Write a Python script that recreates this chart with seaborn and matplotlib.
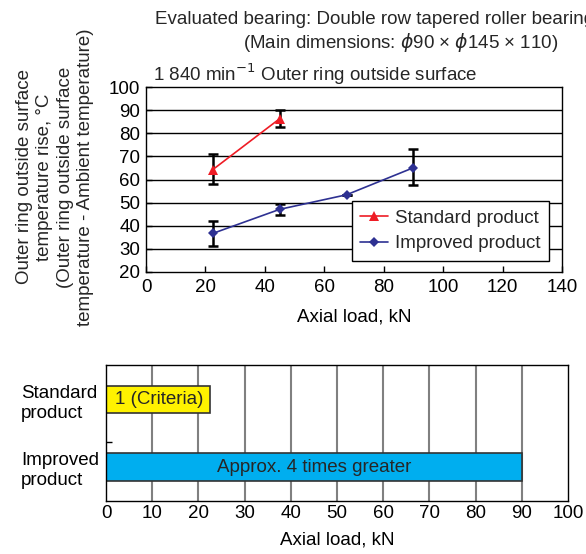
import matplotlib
matplotlib.use("Agg")
import matplotlib.pyplot as plt
import seaborn as sns
import pandas as pd
import numpy as np

# ---- data ----
std_load = [22.5, 45]
std_temp = [64.3, 86.3]
std_err_low = [58.0, 82.5]
std_err_high = [70.9, 90.2]

imp_load = [22.5, 45, 67.5, 90]
imp_temp = [36.7, 47.1, 53.4, 65.1]
imp_err_low = [31.2, 44.6, 53.4, 57.6]
imp_err_high = [41.9, 49.5, 53.4, 73.0]

series_names = ["Standard product", "Improved product"]

bar_categories = ["Standard\nproduct", "Improved\nproduct"]
bar_values = [22.5, 90]
bar_texts = ["1 (Criteria)", "Approx. 4 times greater"]

# ---- style ----
sns.set_theme(style="white")
plt.rcParams['font.family'] = ['Liberation Sans', 'DejaVu Sans']
FS = 13.5

W, H = 586, 554
fig = plt.figure(figsize=(W / 100, H / 100), dpi=100)

def rect(l, t, r, b):
    return [l / W, 1 - b / H, (r - l) / W, (b - t) / H]

# ---- top chart ----
ax1 = fig.add_axes(rect(146, 87, 562, 272))
df = pd.concat([
    pd.DataFrame({"load": std_load, "temp": std_temp, "series": series_names[0]}),
    pd.DataFrame({"load": imp_load, "temp": imp_temp, "series": series_names[1]}),
])
colors = {series_names[0]: "#ee1c25", series_names[1]: "#2e3192"}
for y in range(30, 100, 10):
    ax1.axhline(y, color="black", lw=1.0, zorder=0)
sns.lineplot(data=df, x="load", y="temp", hue="series", style="series",
             markers={series_names[0]: "^", series_names[1]: "D"},
             dashes=False, palette=colors, ax=ax1, lw=1.2,
             markersize=7.5, markeredgewidth=0, zorder=3)
for ln in ax1.get_lines():
    if ln.get_marker() == "D":
        ln.set_markersize(5.5)
ax1.errorbar(std_load, std_temp,
             yerr=[np.array(std_temp) - np.array(std_err_low), np.array(std_err_high) - np.array(std_temp)],
             fmt="none", ecolor="black", elinewidth=1.8, capsize=3.5, capthick=1.8, zorder=2)
ax1.errorbar(imp_load, imp_temp,
             yerr=[np.array(imp_temp) - np.array(imp_err_low), np.array(imp_err_high) - np.array(imp_temp)],
             fmt="none", ecolor="black", elinewidth=1.8, capsize=3.5, capthick=1.8, zorder=2)
ax1.set_xlim(0, 140)
ax1.set_ylim(20, 100)
ax1.set_xticks(range(0, 141, 20))
ax1.set_yticks(range(20, 101, 10))
ax1.tick_params(axis="both", labelsize=FS, colors="black", direction="in", length=4, width=1,
                bottom=True, left=True)
ax1.tick_params(axis="y", pad=4)
ax1.tick_params(axis="x", pad=5)
for s in ax1.spines.values():
    s.set_color("black")
    s.set_linewidth(1.0)
ax1.set_xlabel("Axial load, kN", fontsize=FS, color="black", labelpad=9)
ax1.set_ylabel("")
leg = ax1.legend(title=None, loc="upper left", bbox_to_anchor=(0.495, 0.384),
                 borderaxespad=0, fontsize=FS, frameon=True, fancybox=False,
                 edgecolor="black", framealpha=1, borderpad=0.45, labelspacing=0.45,
                 handlelength=1.45, handletextpad=0.4, markerscale=1.0)
leg.get_frame().set_linewidth(1.0)

fig.text(55 / W, 1 - 177 / H,
         "Outer ring outside surface\ntemperature rise, °C\n(Outer ring outside surface\ntemperature - Ambient temperature)",
         rotation=90, ha="center", va="center", fontsize=FS, ma="center", linespacing=1.25,
         transform=fig.transFigure)

fig.text(155 / W, 1 - 20 / H, "Evaluated bearing: Double row tapered roller bearing",
         ha="left", va="center", fontsize=FS)
fig.text(243 / W, 1 - 42 / H, "(Main dimensions: $\\phi$90 × $\\phi$145 × 110)",
         ha="left", va="center", fontsize=FS)
fig.text(153 / W, 1 - 74 / H, "1 840 min$^{-1}$ Outer ring outside surface",
         ha="left", va="center", fontsize=FS)

# ---- bottom chart ----
ax2 = fig.add_axes(rect(106, 365, 568, 501))
bdf = pd.DataFrame({"cat": bar_categories, "val": bar_values})
for xg in range(10, 100, 10):
    ax2.axvline(xg, color="#808080", lw=1.5, zorder=0)
sns.barplot(data=bdf, y="cat", x="val", hue="cat", orient="h",
            palette=["#fff200", "#00aeef"], edgecolor="#333333", linewidth=1.2,
            width=0.41, ax=ax2, legend=False, zorder=2, saturation=1)
ax2.set_xlim(0, 100)
ax2.set_ylim(1.5, -0.51)
ax2.set_xticks(range(0, 101, 10))
ax2.set_xlabel("Axial load, kN", fontsize=FS, color="black", labelpad=7)
ax2.set_ylabel("")
ax2.tick_params(axis="x", labelsize=FS, colors="black", length=0, pad=3)
ax2.tick_params(axis="y", labelsize=FS, colors="black", length=0, pad=61)
for lab in ax2.get_yticklabels():
    lab.set_horizontalalignment("left")
    lab.set_linespacing(1.25)
ax2.set_yticks([0.63], minor=True)
ax2.tick_params(axis="y", which="minor", direction="in", length=4, width=1, color="black", left=True)
for s in ax2.spines.values():
    s.set_color("black")
    s.set_linewidth(1.0)
ax2.text(2, 0, bar_texts[0], ha="left", va="center", fontsize=FS, zorder=4)
ax2.text(45, 1, bar_texts[1], ha="center", va="center", fontsize=FS, zorder=4)

fig.savefig("out.png", dpi=100)
